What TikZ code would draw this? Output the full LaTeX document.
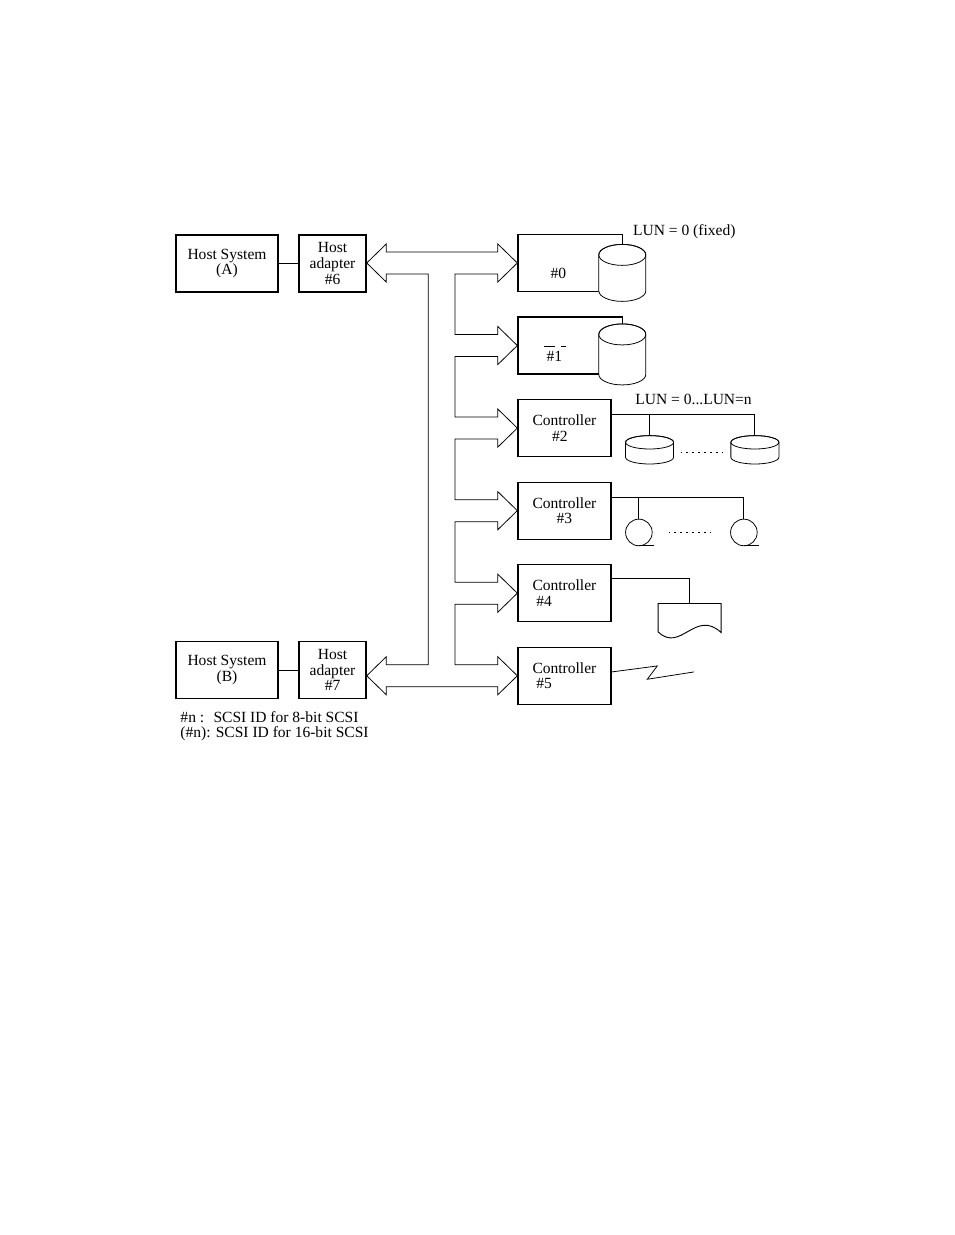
\documentclass[tikz,border=0pt]{standalone}
\usepackage{fontspec}
\setmainfont{Liberation Serif}
\usetikzlibrary{positioning, calc}
\tikzset{
    hostbox/.style={rectangle, draw, line width=0.8pt, align=center, minimum width=23.1mm, minimum height=12.9mm, inner sep=1pt},
    adapterbox/.style={hostbox, minimum width=15.2mm},
    devbox/.style={hostbox, minimum width=23.7mm},
    ctlbox/.style={hostbox, minimum width=21.05mm},
    bus/.style={draw, line width=0.5pt, fill=white},
    link/.style={draw, line width=0.5pt},
    dotrow/.style={line width=0.8pt, dash pattern=on 1pt off 2.8pt},
    pics/bigdrum/.style={code={
        \filldraw[fill=white, line width=0.5pt] (-23.5,0) -- (-23.5,-#1) arc[start angle=180, end angle=360, x radius=23.5, y radius=10.5] -- (23.5,0) arc[start angle=0, end angle=180, x radius=23.5, y radius=10.5] -- cycle;
        \draw[line width=0.5pt] (0,0) ellipse[x radius=23.5, y radius=10.5];
        \coordinate (-top) at (0,10.5);
    }},
    pics/platter/.style={code={
        \filldraw[fill=white, line width=0.5pt] (-24,0) -- (-24,-15) arc[start angle=180, end angle=360, x radius=24, y radius=6.7] -- (24,0) arc[start angle=0, end angle=180, x radius=24, y radius=6.7] -- cycle;
        \draw[line width=0.5pt] (0,0) ellipse[x radius=24, y radius=6.7];
        \coordinate (-top) at (0,6.7);
    }},
    pics/reel/.style={code={
        \draw[line width=0.5pt] (0,0) circle[radius=13.3];
        \draw[line width=0.5pt] (0,-13.3) -- (15,-13.3);
        \coordinate (-top) at (0,13.3);
    }},
    pics/printout/.style={code={
        \draw[line width=0.6pt] (-31.5,-28.3) -- (-31.5,0) -- (31.5,0) -- (31.5,-29) .. controls (5.8,-5) and (-9.2,-50) .. (-31.5,-28.3) -- cycle;
        \coordinate (-top) at (0,0);
    }}
}
\newcommand{\branchto}[1]{-- ($(busR |- #1.west)+(0,11)$) -- ($(#1.west)+(-19.5,11)$) -- ++(0,8) -- (#1.west) -- ++(-19.5,-19) -- ++(0,8) -- ($(busR |- #1.west)+(0,-11)$)}

\begin{document}
\begin{tikzpicture}[x=0.2263mm, y=0.2263mm, node distance=5.5mm, font=\fontsize{10}{10}\selectfont]
    \useasboundingbox (0,0) rectangle (954,-1235);

    \node[hostbox] (hostA) at (227,-263.5) {Host System\\(A)};
    \node[adapterbox, right=4.45mm of hostA] (adapA) {Host\\adapter\\\#6};
    \node[hostbox] (hostB) at (227,-670) {Host System\\(B)};
    \node[adapterbox, right=4.45mm of hostB] (adapB) {Host\\adapter\\\#7};

    \node[devbox] (dev0) at (570.3,-263) {};
    \node[devbox, below=of dev0] (dev1) {};
    \node[ctlbox, below right=5.5mm and 0mm of dev1.south west] (ctl2) {Controller\\\#2\hspace*{6pt}};
    \node[ctlbox, below=of ctl2] (ctl3) {Controller\\\#3};
    \node[ctlbox, below=of ctl3, align=left] (ctl4) {Controller\\\hspace*{2.5pt}\#4};
    \node[ctlbox, below=of ctl4, align=left] (ctl5) {Controller\\\hspace*{2.5pt}\#5};

    \node (id0) at ($(dev0.center)+(-12,-10)$) {\#0};
    \node (id1) at ($(dev1.center)+(-16,-10.5)$) {\#1};
    \draw[line width=0.5pt] ($(id1.center)+(-10.7,10)$) -- ++(11.7,0);
    \draw[line width=0.5pt] ($(id1.center)+(6.7,10)$) -- ++(5.3,0);

    \draw[link] (hostA) -- (adapA);
    \draw[link] (hostB) -- (adapB);

    \coordinate (busL) at (428.3,0);
    \coordinate (busR) at (455,0);
    \draw[bus] (adapA.east |- dev0.west) -- ++(19.5,19) -- ++(0,-8) -- ($(dev0.west)+(-19.5,11)$) -- ++(0,8) -- (dev0.west) -- ++(-19.5,-19) -- ++(0,8) -- ($(busR |- dev0.west)+(0,-11)$)
        \branchto{dev1} \branchto{ctl2} \branchto{ctl3} \branchto{ctl4} \branchto{ctl5}
        -- ($(adapB.east |- ctl5.west)+(19.5,-11)$) -- ++(0,-8) -- (adapB.east |- ctl5.west) -- ++(19.5,19) -- ++(0,-8)
        -- ($(busL |- ctl5.west)+(0,11)$) -- ($(busL |- dev0.west)+(0,-11)$) -- ($(adapA.east |- dev0.west)+(19.5,-11)$) -- ++(0,-8) -- cycle;

    \pic (dr0) at ($(dev0.north east)+(-1,-21)$) {bigdrum=36};
    \pic (dr1) at ($(dev1.north east)+(-1,-18)$) {bigdrum=40};
    \node (lun0) at ($(dev0.north east)+(61,2)$) {LUN = 0 (fixed)};

    \node (lunn) at ($(ctl2.north east)+(82,0)$) {LUN = 0...LUN=n};
    \pic (d2a) at ($(ctl2.east)+(38,-14.2)$) {platter};
    \pic (d2b) at ($(ctl2.east)+(143.3,-14.2)$) {platter};
    \coordinate (bus2) at ($(ctl2.east)+(0,13.5)$);
    \draw[link] (bus2) -| (d2b-top);
    \draw[link] (bus2 -| d2a-top) -- (d2a-top);
    \draw[dotrow] ($(d2a-top)+(31,-16.7)$) -- ($(d2b-top)+(-28.3,-16.7)$);

    \pic (r3a) at ($(ctl3.east)+(27.3,-21.8)$) {reel};
    \pic (r3b) at ($(ctl3.east)+(132.3,-21.8)$) {reel};
    \coordinate (bus3) at ($(ctl3.east)+(0,13.2)$);
    \draw[link] (bus3) -| (r3b-top);
    \draw[link] (bus3 -| r3a-top) -- (r3a-top);
    \draw[dotrow] ($(r3a-top)+(29.7,-13.3)$) -- ($(r3b-top)+(-28.3,-13.3)$);

    \pic (pr4) at ($(ctl4.east)+(78,-10.3)$) {printout};
    \draw[link] ($(ctl4.east)+(0,14.7)$) -| (pr4-top);

    \coordinate (zz) at ($(ctl5.east)+(82.3,3.8)$);
    \draw[link] ($(ctl5.east)+(0,3.8)$) -- ++(45.7,6) -- ++(-10,-13.3) -- (zz);

    \node[align=left, anchor=west, font=\fontsize{10}{9.3}\selectfont] (note) at (175,-726) {\#n :\hspace{6pt}SCSI ID for 8-bit SCSI\\(\#n): SCSI ID for 16-bit SCSI};
\end{tikzpicture}
\end{document}
